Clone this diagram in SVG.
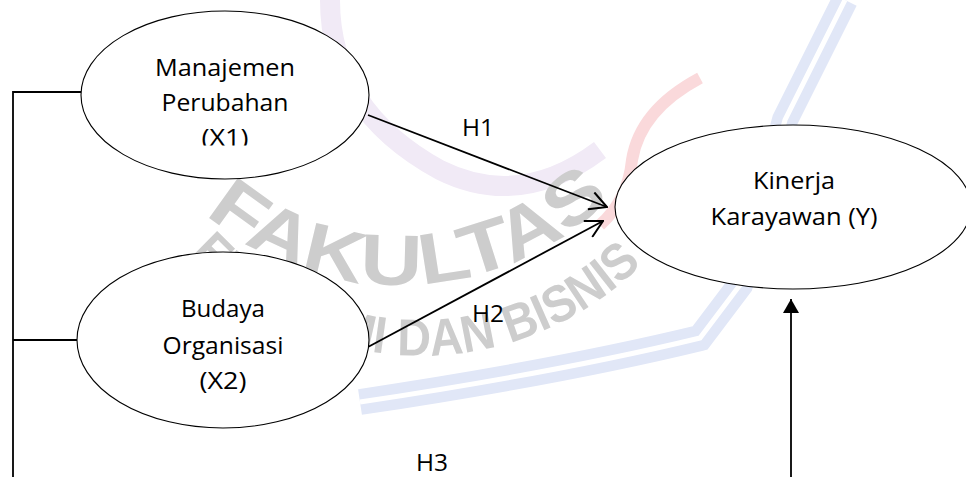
<svg xmlns="http://www.w3.org/2000/svg" width="966" height="477" viewBox="0 0 966 477">
<style>
.wm{font-family:"Liberation Sans",Arial,sans-serif;font-weight:bold;fill:#cdcdcd}
.node ellipse{fill:#fff;stroke:#000;stroke-width:1.1}
.lbl{font-family:"Open Sans","Noto Sans",sans-serif;font-size:24px;fill:#000;text-anchor:middle}
.conn{stroke:#000;stroke-width:1.8;fill:none}
</style>
<defs>
<marker id="open" viewBox="0 0 20 20" refX="19" refY="10" markerWidth="20" markerHeight="20" markerUnits="userSpaceOnUse" orient="auto">
<path d="M2,1 L19,10 L2,19" fill="none" stroke="#000" stroke-width="2"/>
</marker>
<marker id="solid" viewBox="0 0 14 16" refX="14" refY="8" markerWidth="14" markerHeight="16" markerUnits="userSpaceOnUse" orient="auto">
<path d="M0,0 L14,8 L0,16 Z" fill="#000"/>
</marker>
<clipPath id="clipX1"><rect x="0" y="0" width="966" height="145.5"/></clipPath>
<path id="arcF" d="M205,214 A300,300 0 0 0 614,194"/>
<path id="arcE" d="M190,254 A313,313 0 0 0 648,258"/>
</defs>

<g id="watermark">
<path d="M845,0 L785,120 L740,285 L700,338 Q560,372 360,402" fill="none" stroke="#e1e7f7" stroke-width="26"/>
<path d="M845,0 L785,120 L740,285 L700,338 Q560,372 360,402" fill="none" stroke="#fff" stroke-width="5"/>
<path d="M330,0 Q330,110 440,170 Q520,210 600,150" fill="none" stroke="#f1eaf6" stroke-width="20"/>
<path d="M700,78 Q640,110 632,160 Q628,200 600,225" fill="none" stroke="#fad9db" stroke-width="12"/>
<text class="wm" font-size="72"><textPath href="#arcF" textLength="445" lengthAdjust="spacingAndGlyphs">FAKULTAS</textPath></text>
<text class="wm" font-size="52"><textPath href="#arcE" textLength="505" lengthAdjust="spacingAndGlyphs">EKONOMI DAN BISNIS</textPath></text>
</g>

<g id="connectors">
<polyline class="conn" points="81,92 13,92 13,477"/>
<line class="conn" x1="13" y1="340" x2="77" y2="340"/>
<line class="conn" x1="368" y1="115" x2="607" y2="207" marker-end="url(#open)"/>
<line class="conn" x1="368" y1="347" x2="603" y2="221" marker-end="url(#open)"/>
<line class="conn" x1="791" y1="477" x2="791" y2="299" marker-end="url(#solid)"/>
<text class="lbl" x="478" y="136" textLength="32" lengthAdjust="spacingAndGlyphs">H1</text>
<text class="lbl" x="488" y="322" textLength="32" lengthAdjust="spacingAndGlyphs">H2</text>
<text class="lbl" x="432" y="471" textLength="32" lengthAdjust="spacingAndGlyphs">H3</text>
</g>

<g id="node-x1" class="node">
<ellipse cx="225" cy="95" rx="144" ry="84"/>
<text class="lbl" x="225" y="76" textLength="140" lengthAdjust="spacingAndGlyphs">Manajemen</text>
<text class="lbl" x="225" y="111" textLength="127" lengthAdjust="spacingAndGlyphs">Perubahan</text>
<text class="lbl" x="225" y="146" textLength="47" lengthAdjust="spacingAndGlyphs" clip-path="url(#clipX1)">(X1)</text>
</g>

<g id="node-x2" class="node">
<ellipse cx="223" cy="340" rx="146" ry="88"/>
<text class="lbl" x="223" y="317" textLength="84" lengthAdjust="spacingAndGlyphs">Budaya</text>
<text class="lbl" x="223" y="354" textLength="121" lengthAdjust="spacingAndGlyphs">Organisasi</text>
<text class="lbl" x="223" y="389" textLength="47" lengthAdjust="spacingAndGlyphs">(X2)</text>
</g>

<g id="node-y" class="node">
<ellipse cx="793" cy="207" rx="178" ry="82"/>
<text class="lbl" x="794" y="189" textLength="82" lengthAdjust="spacingAndGlyphs">Kinerja</text>
<text class="lbl" x="794" y="225" textLength="167" lengthAdjust="spacingAndGlyphs">Karayawan (Y)</text>
</g>
</svg>
